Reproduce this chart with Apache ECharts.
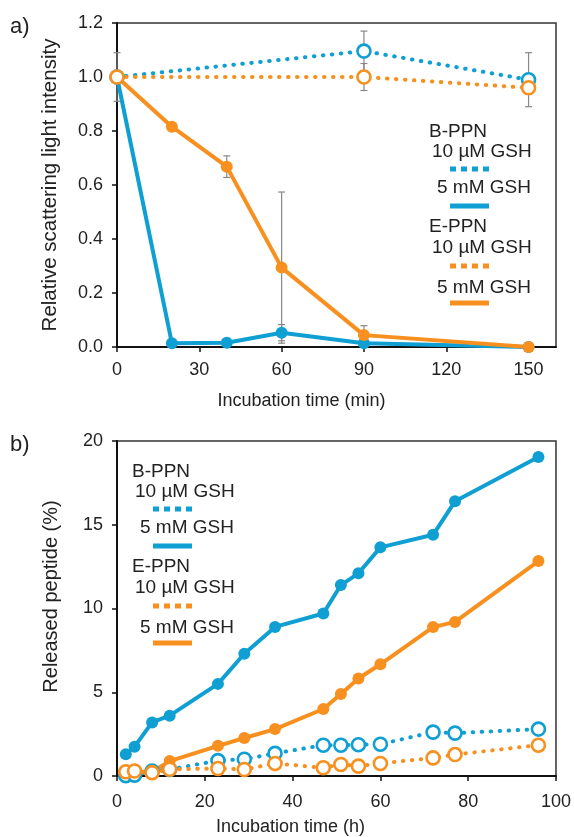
<!DOCTYPE html>
<html>
<head>
<meta charset="utf-8">
<script src="https://cdn.jsdelivr.net/npm/echarts@6/dist/echarts.min.js"></script>
<style>
html,body{margin:0;padding:0;background:#fff;}
#c{width:574px;height:837px;}
</style>
</head>
<body>
<div id="c"></div>
<script>
// ---- Panel a) data ----
const timeA5 = [0, 20, 40, 60, 90, 150];
const timeA10 = [0, 90, 150];
const bppn5mM_A = [1.0, 0.014, 0.016, 0.053, 0.014, 0.0];
const bppn5mM_A_err = [0.09, 0, 0, 0.03, 0, 0];
const eppn5mM_A = [1.0, 0.816, 0.668, 0.294, 0.044, 0.0];
const eppn5mM_A_err = [0, 0, 0.04, 0.28, 0.035, 0];
const bppn10uM_A = [1.0, 1.096, 0.99];
const bppn10uM_A_err = [0, 0.074, 0.1];
const eppn10uM_A = [1.0, 1.0, 0.96];
const eppn10uM_A_err = [0, 0.05, 0];
const xTicksA = [0, 30, 60, 90, 120, 150];

// ---- Panel b) data ----
const timeB = [2, 4, 8, 12, 23, 29, 36, 47, 51, 55, 60, 72, 77, 96];
const bppn5mM_B = [1.3, 1.75, 3.2, 3.6, 5.5, 7.3, 8.9, 9.7, 11.4, 12.1, 13.65, 14.4, 16.4, 19.05];
const eppn5mM_B = [0.2, 0.25, 0.25, 0.89, 1.8, 2.27, 2.8, 4.0, 4.9, 5.82, 6.67, 8.89, 9.2, 12.83];
const bppn10uM_B = [0.02, 0.05, 0.3, 0.39, 0.92, 1.0, 1.35, 1.84, 1.84, 1.87, 1.9, 2.62, 2.56, 2.8];
const eppn10uM_B = [0.25, 0.3, 0.2, 0.4, 0.45, 0.39, 0.75, 0.49, 0.69, 0.59, 0.75, 1.08, 1.28, 1.84];

const BLUE = '#0f9fd3';
const ORANGE = '#f7901e';
const FONT = "'Liberation Sans', Arial, sans-serif";
const TXT = '#222';

function pairs(xs, ys) { return xs.map((x, i) => [x, ys[i]]); }
function errData(xs, ys, es) { return xs.map((x, i) => [x, ys[i], es[i]]).filter(d => d[2] > 0); }

function lineSeries(name, xi, yi, data, color, dotted, open) {
  return {
    type: 'line', name: name, xAxisIndex: xi, yAxisIndex: yi, data: data,
    symbol: 'circle', symbolSize: open ? 13 : 12, showSymbol: true,
    lineStyle: dotted ? { color: color, width: 4, type: [0.5, 8.5], cap: 'round' } : { color: color, width: 4 },
    itemStyle: open ? { color: '#fff', borderColor: color, borderWidth: 2.6 } : { color: color, borderWidth: 0 },
    emphasis: { disabled: true }, animation: false, z: 3
  };
}

function errSeries(xi, yi, data) {
  return {
    type: 'custom', xAxisIndex: xi, yAxisIndex: yi, data: data, animation: false, z: 2,
    renderItem: function (params, api) {
      const x = api.value(0), y = api.value(1), e = api.value(2);
      const top = api.coord([x, y + e]);
      const bot = api.coord([x, Math.max(y - e, 0)]);
      const w = 3.5;
      const st = { stroke: '#888', lineWidth: 1.2 };
      return { type: 'group', children: [
        { type: 'line', shape: { x1: top[0], y1: top[1], x2: bot[0], y2: bot[1] }, style: st },
        { type: 'line', shape: { x1: top[0] - w, y1: top[1], x2: top[0] + w, y2: top[1] }, style: st },
        { type: 'line', shape: { x1: bot[0] - w, y1: bot[1], x2: bot[0] + w, y2: bot[1] }, style: st }
      ]};
    }
  };
}

const axisCommon = {
  axisLine: { show: true, onZero: false, lineStyle: { color: '#111', width: 2 } },
  axisTick: { show: true, inside: false, length: 5, lineStyle: { color: '#111', width: 1.5 } },
  splitLine: { show: false },
  nameTextStyle: { fontFamily: FONT, fontSize: 18, color: TXT },
};
const labelCommon = { fontFamily: FONT, fontSize: 18, color: TXT };

function legendGraphic(x0, y0, items) {
  const els = [];
  items.forEach(it => {
    if (it.text) {
      els.push({ type: 'text', left: x0 + it.dx, top: y0 + it.dy - 10,
        style: { text: it.text, font: "19px 'Liberation Sans', Arial, sans-serif", fill: TXT } });
    } else {
      els.push({ type: 'line', shape: { x1: x0 + it.dx, y1: y0 + it.dy, x2: x0 + it.dx + 39, y2: y0 + it.dy },
        style: { stroke: it.color, lineWidth: 5, lineDash: it.dotted ? [6, 5] : null } });
    }
  });
  return els;
}

const legendItems = [
  { text: 'B-PPN', dx: 0, dy: 0 },
  { text: '10 µM GSH', dx: 3, dy: 20 },
  { line: true, dx: 21, dy: 37, color: BLUE, dotted: true },
  { text: '5 mM GSH', dx: 8, dy: 56 },
  { line: true, dx: 21, dy: 74, color: BLUE, dotted: false },
  { text: 'E-PPN', dx: 0, dy: 95 },
  { text: '10 µM GSH', dx: 3, dy: 116 },
  { line: true, dx: 21, dy: 134, color: ORANGE, dotted: true },
  { text: '5 mM GSH', dx: 8, dy: 156 },
  { line: true, dx: 21, dy: 171, color: ORANGE, dotted: false }
];

const chart = echarts.init(document.getElementById('c'), null, { renderer: 'canvas' });
chart.setOption({
  backgroundColor: '#fff',
  animation: false,
  grid: [
    { left: 117, top: 23, width: 439, height: 324, show: true, borderColor: '#333', borderWidth: 1.5, backgroundColor: 'transparent' },
    { left: 117, top: 441, width: 440, height: 337, show: true, borderColor: '#333', borderWidth: 1.5, backgroundColor: 'transparent' }
  ],
  xAxis: [
    Object.assign({}, axisCommon, {
      type: 'value', gridIndex: 0, min: 0, max: 160, interval: 10,
      name: 'Incubation time (min)', nameLocation: 'middle', nameGap: 45,
      nameTextStyle: { fontFamily: FONT, fontSize: 18, color: TXT, padding: [0, 70, 0, 0] },
      axisTick: Object.assign({}, axisCommon.axisTick, { customValues: xTicksA }),
      axisLabel: Object.assign({}, labelCommon, { margin: 14, customValues: xTicksA })
    }),
    Object.assign({}, axisCommon, {
      type: 'value', gridIndex: 1, min: 0, max: 100, interval: 20,
      name: 'Incubation time (h)', nameLocation: 'middle', nameGap: 42,
      nameTextStyle: { fontFamily: FONT, fontSize: 18, color: TXT, padding: [0, 92, 0, 0] },
      axisLabel: Object.assign({}, labelCommon, { margin: 17 })
    })
  ],
  yAxis: [
    Object.assign({}, axisCommon, {
      type: 'value', gridIndex: 0, min: 0, max: 1.2, interval: 0.2,
      name: 'Relative scattering light intensity', nameLocation: 'middle', nameGap: 56,
      nameTextStyle: { fontFamily: FONT, fontSize: 20.5, color: TXT },
      axisLabel: Object.assign({}, labelCommon, { margin: 14, formatter: v => v.toFixed(1) })
    }),
    Object.assign({}, axisCommon, {
      type: 'value', gridIndex: 1, min: 0, max: 20, interval: 5,
      name: 'Released peptide (%)', nameLocation: 'middle', nameGap: 56,
      nameTextStyle: { fontFamily: FONT, fontSize: 20, color: TXT, padding: [0, 0, 0, 24] },
      axisLabel: Object.assign({}, labelCommon, { margin: 14 })
    })
  ],
  graphic: [
    { type: 'text', left: 10, top: 16, style: { text: 'a)', font: "22px 'Liberation Sans', Arial, sans-serif", fill: TXT } },
    { type: 'text', left: 10, top: 434, style: { text: 'b)', font: "22px 'Liberation Sans', Arial, sans-serif", fill: TXT } }
  ].concat(legendGraphic(429, 132, legendItems)).concat(legendGraphic(132, 472, legendItems)),
  series: [
    errSeries(0, 0, errData(timeA5, bppn5mM_A, bppn5mM_A_err)),
    errSeries(0, 0, errData(timeA10, bppn10uM_A, bppn10uM_A_err)),
    errSeries(0, 0, errData(timeA5, eppn5mM_A, eppn5mM_A_err)),
    errSeries(0, 0, errData(timeA10, eppn10uM_A, eppn10uM_A_err)),
    lineSeries('B-PPN 5 mM GSH', 0, 0, pairs(timeA5, bppn5mM_A), BLUE, false, false),
    lineSeries('B-PPN 10 µM GSH', 0, 0, pairs(timeA10, bppn10uM_A), BLUE, true, true),
    lineSeries('E-PPN 5 mM GSH', 0, 0, pairs(timeA5, eppn5mM_A), ORANGE, false, false),
    lineSeries('E-PPN 10 µM GSH', 0, 0, pairs(timeA10, eppn10uM_A), ORANGE, true, true),
    lineSeries('B-PPN 10 µM GSH (b)', 1, 1, pairs(timeB, bppn10uM_B), BLUE, true, true),
    lineSeries('B-PPN 5 mM GSH (b)', 1, 1, pairs(timeB, bppn5mM_B), BLUE, false, false),
    lineSeries('E-PPN 5 mM GSH (b)', 1, 1, pairs(timeB, eppn5mM_B), ORANGE, false, false),
    lineSeries('E-PPN 10 µM GSH (b)', 1, 1, pairs(timeB, eppn10uM_B), ORANGE, true, true)
  ]
});
</script>
</body>
</html>
